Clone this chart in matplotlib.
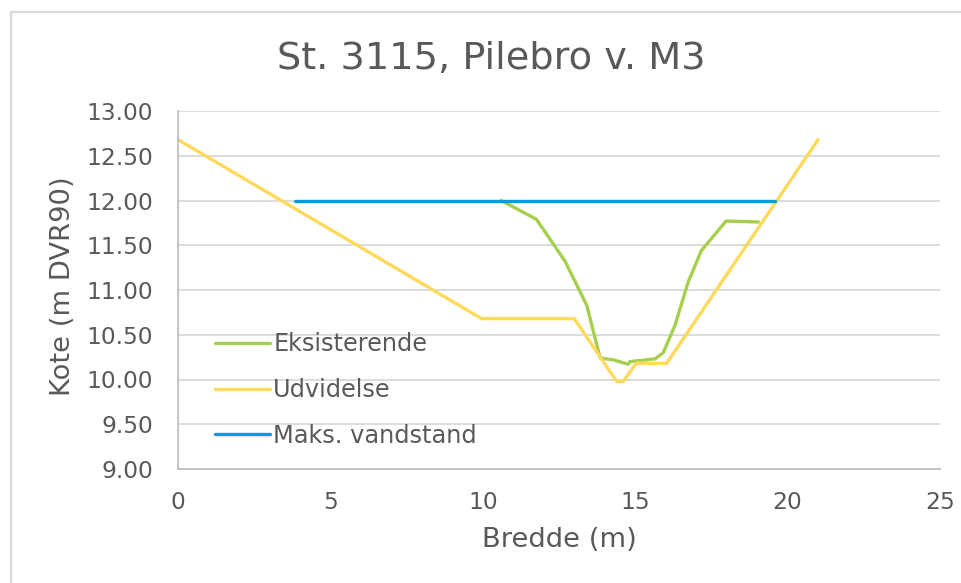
import matplotlib.pyplot as plt
from matplotlib.patches import Rectangle

# Eksisterende (existing profile)
eks_x = [10.6, 11.76, 12.70, 13.41, 13.85, 14.28, 14.77, 14.83, 15.65, 15.92, 16.31, 16.74, 17.17, 17.98, 19.04]
eks_y = [12.00, 11.79, 11.32, 10.83, 10.24, 10.22, 10.17, 10.20, 10.23, 10.30, 10.61, 11.09, 11.44, 11.77, 11.76]

# Udvidelse (widening)
udv_x = [0.0, 9.96, 13.0, 14.39, 14.61, 15.03, 16.03, 21.0]
udv_y = [12.68, 10.68, 10.68, 9.98, 9.98, 10.18, 10.18, 12.68]

# Maks. vandstand (max water level)
maks_x = [3.84, 19.59]
maks_y = [12.00, 12.00]

text_col = "#595959"
plt.rcParams["font.family"] = "DejaVu Sans"

fig = plt.figure(figsize=(9.61, 5.83), dpi=100)
# chart border (only top and left edges visible in the crop)
fig.patches.append(Rectangle((11 / 961, -0.1), 1.2, 1.1 - 12 / 583, transform=fig.transFigure,
                             fill=False, edgecolor="#d9d9d9", lw=1.6))
ax = fig.add_axes([178 / 961, 1 - 469 / 583, 762 / 961, 358 / 583])

ax.plot(eks_x, eks_y, color="#a5cf4c", lw=2.4, label="Eksisterende", solid_capstyle="round")
ax.plot(udv_x, udv_y, color="#ffd95a", lw=2.4, label="Udvidelse", solid_capstyle="round")
ax.plot(maks_x, maks_y, color="#009ee0", lw=2.4, label="Maks. vandstand", solid_capstyle="round")

ax.set_xlim(0, 25)
ax.set_ylim(9, 13)
ax.set_xticks(range(0, 26, 5))
ax.set_yticks([9 + 0.5 * i for i in range(9)])
ax.set_yticklabels([f"{9 + 0.5 * i:.2f}" for i in range(9)])
ax.grid(axis="y", color="#d9d9d9", lw=1.3)
ax.set_axisbelow(True)
for s in ["top", "right"]:
    ax.spines[s].set_visible(False)
for s in ["left", "bottom"]:
    ax.spines[s].set_color("#bfbfbf")
    ax.spines[s].set_linewidth(1.3)
ax.tick_params(length=0, labelsize=16.8, colors=text_col)
ax.tick_params(axis="y", pad=18)
ax.tick_params(axis="x", pad=16)

fig.text(491 / 961, 1 - 69 / 583, "St. 3115, Pilebro v. M3", fontsize=27.5,
         color=text_col, ha="center", va="baseline")
ax.set_xlabel("Bredde (m)", fontsize=19.7, color=text_col, va="center")
ax.set_ylabel("Kote (m DVR90)", fontsize=19.7, color=text_col, va="center")
ax.xaxis.set_label_coords(0.5, (469 - 540) / 358)
ax.yaxis.set_label_coords((63 - 178) / 762, (469 - 286.5) / 358)

ax.legend(loc="center left", bbox_to_anchor=((215 - 178) / 762, (469 - 390) / 358),
          frameon=False, borderpad=0, borderaxespad=0,
          fontsize=17.3, labelcolor=text_col, handlelength=2.3, handletextpad=0.12,
          labelspacing=0.9)

fig.savefig("out.png", dpi=100)
